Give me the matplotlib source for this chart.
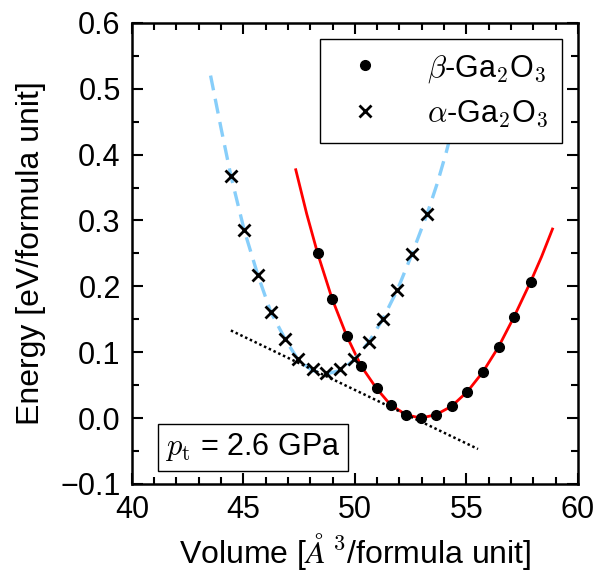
import matplotlib
matplotlib.use("Agg")
import matplotlib.pyplot as plt
import matplotlib.ticker as ticker

# beta-Ga2O3 computed points
beta_vol = [48.33, 48.98, 49.63, 50.28, 50.97, 51.60, 52.30, 52.95,
            53.63, 54.34, 55.04, 55.74, 56.44, 57.14, 57.88]
beta_en = [0.250, 0.181, 0.125, 0.079, 0.045, 0.020, 0.005, 0.000,
           0.005, 0.018, 0.040, 0.070, 0.108, 0.154, 0.207]

# alpha-Ga2O3 computed points
alpha_vol = [44.44, 45.04, 45.65, 46.23, 46.87, 47.46, 48.10, 48.70,
             49.34, 49.96, 50.64, 51.26, 51.91, 52.56, 53.24]
alpha_en = [0.368, 0.285, 0.217, 0.161, 0.120, 0.090, 0.074, 0.068,
            0.074, 0.089, 0.116, 0.151, 0.195, 0.249, 0.310]

# EOS fit curves
beta_fit_vol = [47.35, 47.84, 48.33, 48.98, 49.63, 50.28, 50.97, 51.60, 52.30, 52.95,
                53.63, 54.34, 55.04, 55.74, 56.44, 57.14, 57.88, 58.37, 58.86]
beta_fit_en = [0.377, 0.310, 0.250, 0.181, 0.125, 0.079, 0.045, 0.020, 0.005, 0.000,
               0.005, 0.018, 0.040, 0.070, 0.108, 0.154, 0.207, 0.245, 0.287]

alpha_fit_vol = [43.53, 44.00, 44.44, 45.04, 45.65, 46.23, 46.87, 47.46, 48.10, 48.70,
                 49.34, 49.96, 50.64, 51.26, 51.91, 52.56, 53.24, 53.70, 54.10, 54.30]
alpha_fit_en = [0.520, 0.440, 0.368, 0.285, 0.217, 0.161, 0.120, 0.088, 0.072, 0.067,
                0.072, 0.088, 0.116, 0.151, 0.195, 0.249, 0.310, 0.357, 0.404, 0.430]

# common tangent
tangent_vol = [44.44, 55.52]
tangent_en = [0.133, -0.047]

plt.rcParams['font.family'] = ['Liberation Sans', 'DejaVu Sans']
plt.rcParams['mathtext.fontset'] = 'cm'
plt.rcParams['font.size'] = 22

fig = plt.figure(figsize=(6.02, 5.72), dpi=100)
ax = fig.add_axes([0.219, 0.154, 0.741, 0.806])

ax.plot(beta_fit_vol, beta_fit_en, color='red', lw=2.0, zorder=2)
ax.plot(alpha_fit_vol, alpha_fit_en, color='#87CEFA', lw=2.4, ls=(0, (4.5, 2.6)), zorder=2)
ax.plot(tangent_vol, tangent_en, color='black', lw=1.8, ls=(0, (1, 1.1)), zorder=2)

ax.plot(beta_vol, beta_en, 'o', color='black', ms=7, ls='none',
        label=r'$\beta$-Ga$_2$O$_3$', zorder=3)
ax.plot(alpha_vol, alpha_en, 'x', color='black', ms=8, mew=2, ls='none',
        label=r'$\alpha$-Ga$_2$O$_3$', zorder=3)

ax.set_xlim(40, 60)
ax.set_ylim(-0.1, 0.6)
ax.xaxis.set_major_locator(ticker.MultipleLocator(5))
ax.xaxis.set_minor_locator(ticker.MultipleLocator(1))
ax.yaxis.set_major_locator(ticker.MultipleLocator(0.1))
ax.yaxis.set_minor_locator(ticker.MultipleLocator(0.05))
ax.tick_params(which='both', direction='in', top=True, right=True, width=1.5)
ax.tick_params(which='major', length=8, pad=8)
ax.tick_params(which='minor', length=5)
for s in ax.spines.values():
    s.set_linewidth(1.8)

ax.set_xlabel(r'Volume [$\AA^{\,3}$/formula unit]', fontsize=23, labelpad=4)
ax.set_ylabel('Energy [eV/formula unit]', fontsize=23, labelpad=10)

leg = ax.legend(loc='upper right', bbox_to_anchor=(0.964, 0.965), borderaxespad=0,
                fancybox=False, edgecolor='black', framealpha=1,
                handlelength=2.05, handletextpad=1.0, borderpad=0.45, labelspacing=0.45)
leg.get_frame().set_linewidth(1.0)
leg.set_zorder(5)

ax.text(0.075, 0.045, r'$p_{\rm t}$ = 2.6 GPa', transform=ax.transAxes,
        ha='left', va='bottom',
        bbox=dict(boxstyle='square,pad=0.25', fc='white', ec='black', lw=1.0))

fig.savefig('out.png', dpi=100)
